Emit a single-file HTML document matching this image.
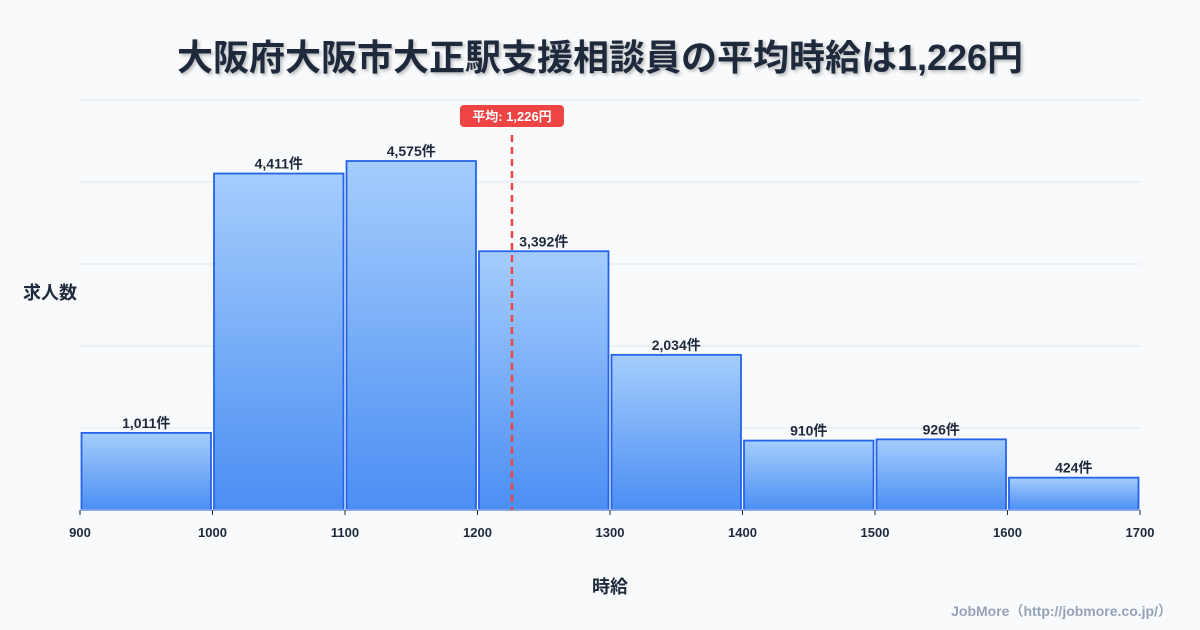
<!DOCTYPE html>
<html><head><meta charset="utf-8"><style>
body{margin:0;width:1200px;height:630px;background:#f8fafc;font-family:"Liberation Sans","Noto Sans CJK JP",sans-serif;overflow:hidden;position:relative}
#title{position:absolute;top:29px;left:0;width:1200px;text-align:center;font-size:36px;font-weight:bold;color:#1e293b;text-shadow:2px 2px 3px rgba(0,0,0,0.25)}
</style></head><body>
<div id="title">大阪府大阪市大正駅支援相談員の平均時給は1,226円</div>
<svg id="chart" width="1200" height="630" style="position:absolute;left:0;top:0">
<defs><linearGradient id="g" x1="0" y1="0" x2="0" y2="1"><stop offset="0" stop-color="#a5cdfc"/><stop offset="1" stop-color="#4b8ef3"/></linearGradient></defs>
</svg>
<script>
const binStarts=[900,1000,1100,1200,1300,1400,1500,1600];
const counts=[1011,4411,4575,3392,2034,910,926,424];
const xTicks=[900,1000,1100,1200,1300,1400,1500,1600,1700];
const avg=1226;
const svg=document.getElementById('chart');
const NS='http://www.w3.org/2000/svg';
const x=v=>80+(v-900)*1060/800;
const y=v=>510-v*0.07628;
function mk(t,a,txt){const e=document.createElementNS(NS,t);for(const k in a)e.setAttribute(k,a[k]);if(txt!==undefined)e.textContent=txt;svg.appendChild(e);return e;}
for(let i=0;i<5;i++){const g=mk('line',{x1:80,x2:1140,y1:100+i*82,y2:100+i*82,stroke:'#e2e8f0','stroke-width':1});

}
counts.forEach((c,i)=>{
const x0=x(binStarts[i]),x1=x(binStarts[i]+100);
const r=mk('rect',{x:x0+1.5,y:y(c),width:x1-x0-3,height:510-y(c),fill:'url(#g)',stroke:'#2563eb','stroke-width':1.8});


const t=mk('text',{x:(x0+x1)/2,y:y(c)-5,'text-anchor':'middle','font-size':14,'font-weight':'bold',fill:'#1e293b'},c.toLocaleString('en-US')+'件');


});
const ax=mk('line',{x1:80,x2:1140,y1:510,y2:510,stroke:'#cbd5e1','stroke-width':1});


xTicks.forEach(v=>{
const tk=mk('line',{x1:x(v),x2:x(v),y1:510,y2:515,stroke:'#1e293b'});


const t=mk('text',{x:x(v),y:537,'text-anchor':'middle','font-size':13,'font-weight':'bold',fill:'#1e293b'},String(v));


});
const ml=mk('line',{x1:x(avg),x2:x(avg),y1:135,y2:510,stroke:'#ef4444','stroke-width':2.5,'stroke-dasharray':'7,5'});


const bg=mk('rect',{x:x(avg)-52,y:105,width:104,height:22,rx:4,fill:'#ef4444'});


const bt=mk('text',{x:x(avg),y:121,'text-anchor':'middle','font-size':13,'font-weight':'bold',fill:'#fff'},'平均: 1,226円');


const yt=mk('text',{x:50,y:299,'text-anchor':'middle','font-size':18,'font-weight':'bold',fill:'#1e293b'},'求人数');


const xt=mk('text',{x:610,y:593,'text-anchor':'middle','font-size':18,'font-weight':'bold',fill:'#1e293b'},'時給');


const cr=mk('text',{x:1172,y:616,'text-anchor':'end','font-size':14,'font-weight':'bold',fill:'#94a3b8'},'JobMore（http://jobmore.co.jp/）');


</script>
</body></html>
